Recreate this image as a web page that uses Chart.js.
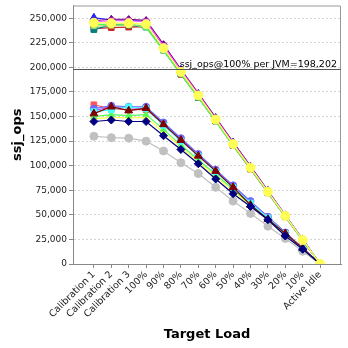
<!DOCTYPE html>
<html>
<head>
<meta charset="utf-8">
<script src="https://cdn.jsdelivr.net/npm/chart.js@4/dist/chart.umd.min.js"></script>
<style>
  html, body { margin: 0; padding: 0; background: #fff; }
  #wrap { width: 348px; height: 348px; }
</style>
</head>
<body>
<div id="wrap"><canvas id="chart" width="348" height="348"></canvas></div>
<script>
// categories
const loadLabels = ['Calibration 1', 'Calibration 2', 'Calibration 3', '100%', '90%', '80%', '70%',
  '60%', '50%', '40%', '30%', '20%', '10%', 'Active Idle'];
const yTickValues = [0, 25000, 50000, 75000, 100000, 125000, 150000, 175000, 200000, 225000, 250000];
const perJvmAt100 = 198202;
const perJvmText = 'ssj_ops@100% per JVM=198,202';

// ssj_ops per JVM (faster group)
const jvmA1 = [245500, 245000, 245000, 244000, 219500, 195500, 171500, 147000, 122000, 98000, 73500, 49000, 24500, 0];
const jvmA2 = [239500, 240500, 241000, 241500, 218000, 193000, 169500, 145500, 120500, 96500, 72500, 48000, 24000, 0];
const jvmA3 = [250500, 248500, 248000, 247000, 222500, 197500, 173000, 148500, 123500, 99000, 74500, 49500, 25000, 0];
const jvmA4 = [238500, 243500, 243000, 241000, 217500, 193500, 169500, 145500, 121000, 97000, 72500, 48500, 24000, 0];
const jvmA5 = [247500, 249000, 249000, 248000, 223500, 198000, 173500, 149000, 124000, 99500, 74500, 49500, 25000, 0];
const jvmA6 = [246500, 247500, 247500, 246500, 222000, 197000, 172500, 148000, 123000, 98500, 74000, 49500, 24500, 0];
const jvmA7 = [243500, 244000, 244500, 240500, 217000, 193000, 169000, 145000, 120500, 96500, 72500, 48000, 24000, 0];
const jvmA8 = [242000, 242500, 243000, 242500, 219000, 194500, 170500, 146500, 121500, 97500, 73000, 49000, 24500, 0];

// ssj_ops per JVM (slower group)
const jvmB1 = [162000, 158000, 157000, 157000, 143000, 127000, 111000, 95000, 79000, 63000, 48000, 32000, 16000, 0];
const jvmB2 = [158000, 161000, 160000, 160000, 144000, 128000, 112000, 96000, 80000, 64000, 48000, 32000, 16000, 0];
const jvmB3 = [156000, 160000, 159000, 158000, 143000, 127000, 111000, 95000, 79000, 63000, 47500, 31500, 16000, 0];
const jvmB4 = [155000, 157000, 160000, 158000, 141000, 125000, 110000, 94000, 78000, 62000, 47000, 31000, 15500, 0];
const jvmB5 = [150000, 152000, 151000, 152000, 137000, 121000, 106000, 91000, 76000, 60500, 45500, 30500, 15000, 0];
const jvmB6 = [148000, 149000, 149000, 149000, 134000, 119000, 104000, 89000, 74000, 59500, 44500, 29500, 15000, 0];
const jvmB7 = [153000, 160000, 156000, 158500, 142000, 126000, 110000, 94500, 78000, 60000, 45500, 31000, 16000, 0];
const jvmB8 = [145000, 146500, 145000, 145000, 130500, 116500, 102000, 86500, 71500, 58500, 45000, 28500, 15000, 0];
const jvmB9 = [130000, 128500, 128000, 125000, 115000, 103000, 92000, 78000, 64000, 51500, 38500, 26000, 13000, 0];

// first in list is drawn on top
const seriesList = [
  { data: jvmA1, color: '#ffff55', shape: 'circle', r: 4.5 },
  { data: jvmB8, color: '#000080', shape: 'rectRot', r: 4 },
  { data: jvmB7, color: '#800000', shape: 'triangle', r: 4.5 },
  { data: jvmB4, color: '#44ffff', shape: 'rect', r: 4 },
  { data: jvmB2, color: '#6a6aff', shape: 'circle', r: 3.5 },
  { data: jvmB3, color: '#b050ff', shape: 'rect', r: 3 },
  { data: jvmB5, color: '#55ff55', shape: 'triangle', r: 3.5 },
  { data: jvmB6, color: '#ffff55', shape: 'rectRot', r: 3.5 },
  { data: jvmB1, color: '#ff5555', shape: 'rect', r: 4 },
  { data: jvmB9, color: '#c0c0c0', shape: 'circle', r: 4 },
  { data: jvmA8, color: '#99dd66', shape: 'rect', r: 3.5 },
  { data: jvmA7, color: '#55ff55', shape: 'triangle', r: 3.5 },
  { data: jvmA6, color: '#ff55ff', shape: 'rect', r: 3.5 },
  { data: jvmA5, color: '#800080', shape: 'rectRot', r: 3.5 },
  { data: jvmA4, color: '#008080', shape: 'rect', r: 4 },
  { data: jvmA3, color: '#2020ff', shape: 'triangle', r: 4.5 },
  { data: jvmA2, color: '#d02020', shape: 'rect', r: 4 }
];

const font = 'DejaVu Sans';

const framePlugin = {
  id: 'frame',
  beforeDatasetsDraw(chart) {
    const { ctx, chartArea: a } = chart;
    ctx.save();
    ctx.strokeStyle = '#999';
    ctx.lineWidth = 1;
    ctx.beginPath();
    ctx.moveTo(a.left, a.top + 0.5);
    ctx.lineTo(a.right - 0.5, a.top + 0.5);
    ctx.lineTo(a.right - 0.5, a.bottom);
    ctx.stroke();
    ctx.restore();
  }
};

const refLinePlugin = {
  id: 'refLine',
  afterDatasetsDraw(chart) {
    const { ctx, chartArea: a } = chart;
    const y = Math.round(chart.scales.y.getPixelForValue(perJvmAt100)) + 0.5;
    ctx.save();
    ctx.strokeStyle = '#555';
    ctx.lineWidth = 1;
    ctx.beginPath();
    ctx.moveTo(a.left, y);
    ctx.lineTo(a.right, y);
    ctx.stroke();
    ctx.fillStyle = '#000';
    ctx.font = '9.5px "' + font + '"';
    ctx.textAlign = 'right';
    ctx.textBaseline = 'alphabetic';
    ctx.fillText(perJvmText, a.right - 4, y - 2.5);
    ctx.restore();
  }
};

new Chart(document.getElementById('chart'), {
  type: 'line',
  data: {
    datasets: seriesList.map(s => ({
      data: s.data.map((v, i) => ({ x: i, y: v })),
      borderColor: s.color,
      backgroundColor: s.color,
      borderWidth: 1.2,
      pointStyle: s.shape,
      pointRadius: s.r,
      pointBorderWidth: 1,
      pointHoverRadius: s.r,
      tension: 0,
      fill: false
    }))
  },
  options: {
    responsive: false,
    animation: false,
    events: [],
    layout: { padding: { top: 4, right: 7, left: 0, bottom: 0 } },
    plugins: { legend: { display: false }, tooltip: { enabled: false } },
    scales: {
      x: {
        type: 'linear',
        min: -1.2,
        max: 14.2,
        afterBuildTicks: axis => { axis.ticks = loadLabels.map((_, i) => ({ value: i })); },
        afterFit: s => { s.height = 84; s.paddingLeft = 0; s.paddingRight = 0; },
        ticks: {
          autoSkip: false,
          minRotation: 45,
          maxRotation: 45,
          padding: 1,
          color: '#222',
          font: { family: font, size: 9.5 },
          callback: v => loadLabels[v]
        },
        grid: { drawOnChartArea: false, drawTicks: true, tickLength: 4, tickColor: '#888' },
        border: { display: true, color: '#888' },
        title: {
          display: true,
          text: 'Target Load',
          color: '#000',
          font: { family: font, size: 13, weight: 'bold' },
          padding: { top: 0, bottom: 6 }
        }
      },
      y: {
        min: 0,
        max: 263000,
        afterBuildTicks: axis => { axis.ticks = yTickValues.map(v => ({ value: v })); },
        afterFit: s => { s.width = 73; s.paddingTop = 0; s.paddingBottom = 0; },
        ticks: {
          padding: 2,
          color: '#222',
          font: { family: font, size: 9 },
          callback: v => v.toLocaleString('en-US')
        },
        grid: { color: '#d4d4d4', lineWidth: 1, drawTicks: true, tickLength: 4, tickColor: '#888' },
        border: { display: true, color: '#888', dash: [2, 2] },
        title: {
          display: true,
          text: 'ssj_ops',
          color: '#000',
          font: { family: font, size: 13, weight: 'bold' },
          padding: { top: 10, bottom: 0 }
        }
      }
    }
  },
  plugins: [framePlugin, refLinePlugin]
});
</script>
</body>
</html>
